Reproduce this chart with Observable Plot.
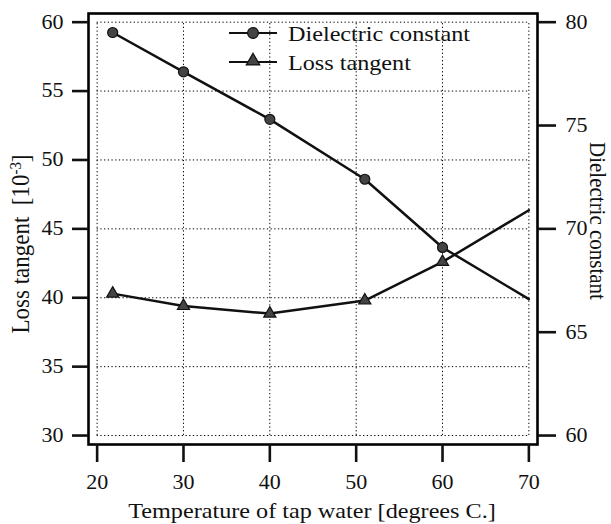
<!DOCTYPE html>
<html><head><meta charset="utf-8">
<script src="https://cdn.jsdelivr.net/npm/d3@7"></script>
<script src="https://cdn.jsdelivr.net/npm/@observablehq/plot@0.6"></script>
<style>
body{margin:0;background:#fff;}
#chart svg{display:block;}
</style></head><body><div id="chart"></div>
<script>
// ---- data ----
const temps       = [21.8, 30, 40, 51, 60, 70];
const dielectric  = [79.5, 77.6, 75.3, 72.4, 69.1, 66.6];   // right axis
const lossTangent = [40.3, 39.4, 38.85, 39.8, 42.6, 46.35]; // left axis [10^-3]
const markedCount = 5; // markers drawn on the first five measurements
const xTicks = [20, 30, 40, 50, 60, 70];
const yLeftTicks = [30, 35, 40, 45, 50, 55, 60];
const yRightTicks = [60, 65, 70, 75, 80];
const legendLabels = ["Dielectric constant", "Loss tangent"];
const xTitle = "Temperature of tap water [degrees C.]";
const yLeftTitle = "Loss tangent";
const yRightTitle = "Dielectric constant";

// right axis (60..80) maps onto left axis (30..60)
const toLeft = d => (d - 40) * 1.5;
const fromLeft = l => l / 1.5 + 40;

const rows = temps.map((t, i) => ({t, diel: dielectric[i], loss: lossTangent[i], i}));
const marked = rows.filter(r => r.i < markedCount);

const font = "'Liberation Serif', 'Times New Roman', serif";
const ink = "#111";
const stretch = 1.1;

const grid = {stroke: "#000", strokeWidth: 1, strokeDasharray: "1.3,2.4"};

const chart = Plot.plot({
  width: 611, height: 524,
  marginLeft: 88, marginRight: 74, marginTop: 13, marginBottom: 80,
  style: {fontFamily: font, fontSize: "20px", background: "#fff", color: ink},
  x: {domain: [19, 71]},
  y: {domain: [29.35, 60.63]},
  marks: [
    Plot.ruleX(xTicks, {x: d => d, y1: 30, y2: 60, ...grid}),
    Plot.ruleY(yLeftTicks, {y: d => d, x1: 20, x2: 70, ...grid}),
    Plot.line(rows, {x: "t", y: d => toLeft(d.diel), stroke: ink, strokeWidth: 2.5}),
    Plot.line(rows, {x: "t", y: "loss", stroke: ink, strokeWidth: 2.5}),
    Plot.dot(marked, {x: "t", y: d => toLeft(d.diel), r: 5, fill: "#444", stroke: ink, strokeWidth: 1.2}),
    Plot.dot(marked, {x: "t", y: "loss", symbol: "triangle", r: 4.5, fill: "#444", stroke: ink, strokeWidth: 1.2}),
    Plot.frame({stroke: "#000", strokeWidth: 2.6}),
    Plot.axisX(xTicks, {tickSize: 18, tickPadding: 12, strokeWidth: 2.6, fontSize: 20, label: null}),
    Plot.axisY(yLeftTicks, {anchor: "left", tickSize: 16, tickPadding: 9, strokeWidth: 2.6, fontSize: 20, label: null}),
    Plot.axisY(yRightTicks.map(toLeft), {anchor: "right", tickSize: 18, tickPadding: 10, strokeWidth: 2.6, fontSize: 20,
      tickFormat: l => String(Math.round(fromLeft(l))), label: null})
  ]
});

const svg = d3.select(chart);

// legend
const lg = svg.append("g").attr("font-family", font).attr("font-size", 22).attr("fill", ink)
  .attr("text-anchor", "start");
legendLabels.forEach((lab, i) => {
  const cy = 33 + i * 29;
  const g = lg.append("g").attr("transform", `translate(0,${cy})`);
  g.append("line").attr("x1", 229).attr("x2", 277).attr("y1", 0).attr("y2", 0)
    .attr("stroke", ink).attr("stroke-width", 2);
  if (i === 0) {
    g.append("circle").attr("cx", 253).attr("cy", 0).attr("r", 5.4).attr("fill", "#444").attr("stroke", ink).attr("stroke-width", 1.2);
  } else {
    g.append("path").attr("d", d3.symbol(d3.symbolTriangle, 5 * 5 * Math.PI)())
      .attr("transform", "translate(253,-1)").attr("fill", "#444").attr("stroke", ink).attr("stroke-width", 1.2);
  }
  g.append("text").attr("x", 288).attr("y", 0).attr("dy", "0.35em").attr("text-anchor", "start").text(lab);
});

// x title
svg.append("text").attr("x", 312).attr("y", 518).attr("text-anchor", "middle")
  .attr("font-family", font).attr("font-size", 22).attr("fill", ink).text(xTitle);

// left title (rotated)
const lt = svg.append("text").attr("class", "rot").attr("text-anchor", "middle")
  .attr("transform", `translate(28.5,244) rotate(-90) scale(1,${stretch})`)
  .attr("font-family", font).attr("font-size", 23).attr("fill", ink);
lt.append("tspan").text(yLeftTitle);
lt.append("tspan").attr("dx", "0.5em").text("[10");
lt.append("tspan").attr("dy", "-0.45em").attr("font-size", "0.65em").text("-3");
lt.append("tspan").attr("dy", "0.3em").text("]");

// right title (rotated)
svg.append("text").attr("class", "rot").attr("text-anchor", "middle")
  .attr("transform", `translate(590,221) rotate(90) scale(1,1.05)`)
  .attr("font-family", font).attr("font-size", 21).attr("fill", ink).text(yRightTitle);

// horizontal stretch of upright text to match the scanned reference
svg.selectAll("text").each(function() {
  if (this.classList.contains("rot")) return;
  const t = this.getAttribute("transform") || "";
  const x = +this.getAttribute("x") || 0, y = +this.getAttribute("y") || 0;
  this.setAttribute("transform", `${t} translate(${x},${y}) scale(${stretch},1) translate(${-x},${-y})`);
});

document.getElementById("chart").appendChild(chart);
</script></body></html>
